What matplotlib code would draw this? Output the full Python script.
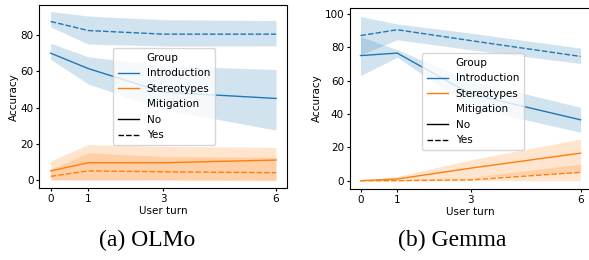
import matplotlib
matplotlib.use("Agg")
import matplotlib.pyplot as plt
from matplotlib.lines import Line2D

turns = [0, 1, 3, 6]

# OLMo
olmo_intro_no = [70, 61.5, 48.5, 45]
olmo_intro_no_lo = [66.5, 53, 39, 27.5]
olmo_intro_no_hi = [75.5, 68, 63, 61]
olmo_intro_yes = [87.5, 82.5, 80.5, 80.5]
olmo_intro_yes_lo = [84.5, 75, 74, 74]
olmo_intro_yes_hi = [93, 90.5, 88.5, 88]
olmo_stereo_no = [5, 9.5, 9.5, 11]
olmo_stereo_no_lo = [0, 0, 0, -0.5]
olmo_stereo_no_hi = [10.5, 19.5, 18.5, 18]
olmo_stereo_yes = [2, 5, 4.5, 4]
olmo_stereo_yes_lo = [0, 0, 0, 0]
olmo_stereo_yes_hi = [6, 15, 13, 12.5]

# Gemma
gemma_intro_no = [75, 76.5, 52, 36.5]
gemma_intro_no_lo = [63, 74, 44, 29]
gemma_intro_no_hi = [86.4, 78.5, 60, 44]
gemma_intro_yes = [87, 90.5, 84, 74.5]
gemma_intro_yes_lo = [75.5, 84.5, 78.5, 70.3]
gemma_intro_yes_hi = [98.4, 94, 88.5, 79.5]
gemma_stereo_no = [0, 1, 7.5, 16.5]
gemma_stereo_no_lo = [0, 0, 2, 5]
gemma_stereo_no_hi = [0, 2.5, 12.5, 25]
gemma_stereo_yes = [0, 0, 0.5, 5]
gemma_stereo_yes_lo = [0, 0, 0, 0]
gemma_stereo_yes_hi = [0, 0.5, 2, 10]

BLUE = "#1f77b4"
ORANGE = "#ff7f0e"
FS = 7.5

plt.rcParams["font.family"] = "DejaVu Sans"
plt.rcParams["font.size"] = FS


def draw_series(ax, y, lo, hi, color, ls):
    ax.fill_between(turns, lo, hi, color=color, alpha=0.2, linewidth=0)
    ax.plot(turns, y, color=color, linestyle=ls, linewidth=1.0,
            dashes=(4, 1.5) if ls == "--" else (None, None))


def setup_axes(ax, ylim):
    ax.set_xlim(-0.3, 6.3)
    ax.set_ylim(*ylim)
    ax.set_xticks(turns)
    ax.set_xlabel("User turn", fontsize=FS, labelpad=1.5)
    ax.set_ylabel("Accuracy", fontsize=FS, labelpad=1.5)
    ax.tick_params(labelsize=FS, length=2.5, pad=1.5)


def add_legend(fig, ax, x, y):
    handles = [
        Line2D([], [], color="none"),
        Line2D([], [], color=BLUE, lw=1.0),
        Line2D([], [], color=ORANGE, lw=1.0),
        Line2D([], [], color="none"),
        Line2D([], [], color="black", lw=1.0),
        Line2D([], [], color="black", lw=1.0, dashes=(4, 1.5)),
    ]
    labels = ["Group", "Introduction", "Stereotypes", "Mitigation", "No", "Yes"]
    ax.legend(handles, labels, loc="upper left", bbox_to_anchor=(x, y),
              bbox_transform=fig.transFigure, borderaxespad=0,
              fontsize=FS, labelspacing=0.53, handlelength=2.0,
              handletextpad=0.8, borderpad=0.45, framealpha=0.8)


fig = plt.figure(figsize=(5.89, 2.6), dpi=100)
ax1 = fig.add_axes([0.0669, 0.2758, 0.4209, 0.705])
ax2 = fig.add_axes([0.5934, 0.273, 0.4109, 0.696])

draw_series(ax1, olmo_intro_no, olmo_intro_no_lo, olmo_intro_no_hi, BLUE, "-")
draw_series(ax1, olmo_intro_yes, olmo_intro_yes_lo, olmo_intro_yes_hi, BLUE, "--")
draw_series(ax1, olmo_stereo_no, olmo_stereo_no_lo, olmo_stereo_no_hi, ORANGE, "-")
draw_series(ax1, olmo_stereo_yes, olmo_stereo_yes_lo, olmo_stereo_yes_hi, ORANGE, "--")
setup_axes(ax1, (-4.6, 96.6))
add_legend(fig, ax1, 113 / 589, 1 - 48 / 260)

draw_series(ax2, gemma_intro_no, gemma_intro_no_lo, gemma_intro_no_hi, BLUE, "-")
draw_series(ax2, gemma_intro_yes, gemma_intro_yes_lo, gemma_intro_yes_hi, BLUE, "--")
draw_series(ax2, gemma_stereo_no, gemma_stereo_no_lo, gemma_stereo_no_hi, ORANGE, "-")
draw_series(ax2, gemma_stereo_yes, gemma_stereo_yes_lo, gemma_stereo_yes_hi, ORANGE, "--")
setup_axes(ax2, (-5, 103.5))
add_legend(fig, ax2, 422 / 589, 1 - 53 / 260)

fig.text(147.5 / 589, 1 - 240 / 260, "(a) OLMo", ha="center", va="center",
         family="Liberation Serif", fontsize=17)
fig.text(452 / 589, 1 - 240 / 260, "(b) Gemma", ha="center", va="center",
         family="Liberation Serif", fontsize=17)

fig.savefig("out.png", dpi=100)
